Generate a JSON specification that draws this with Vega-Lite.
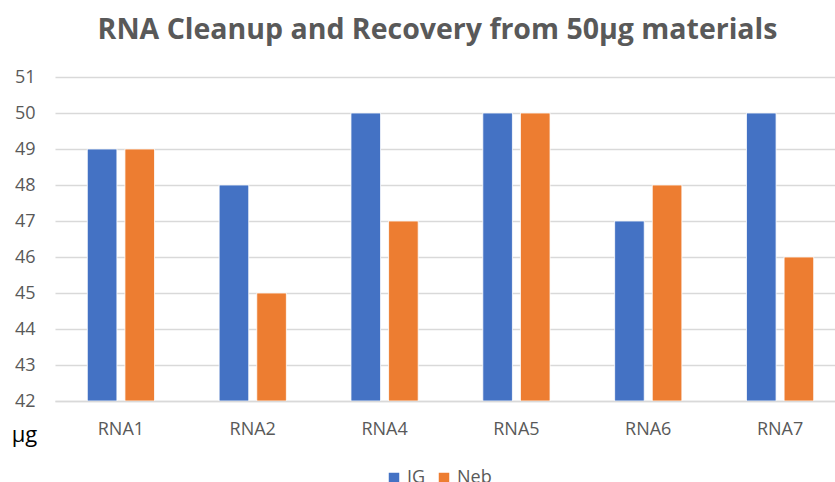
{
  "$schema": "https://vega.github.io/schema/vega-lite/v6.json",
  "width": 791,
  "height": 324,
  "autosize": {"type": "none"},
  "padding": {"left": 55, "top": 77, "right": 0, "bottom": 81},
  "background": "white",
  "title": {
    "text": "RNA Cleanup and Recovery from 50µg materials",
    "font": "Open Sans",
    "fontSize": 28.5,
    "fontWeight": "bold",
    "color": "#595959",
    "anchor": "middle",
    "dx": -13,
    "offset": 24
  },
  "data": {
    "values": [
      {"sample": "RNA1", "method": "IG", "value": 49},
      {"sample": "RNA1", "method": "Neb", "value": 49},
      {"sample": "RNA2", "method": "IG", "value": 48},
      {"sample": "RNA2", "method": "Neb", "value": 45},
      {"sample": "RNA4", "method": "IG", "value": 50},
      {"sample": "RNA4", "method": "Neb", "value": 47},
      {"sample": "RNA5", "method": "IG", "value": 50},
      {"sample": "RNA5", "method": "Neb", "value": 50},
      {"sample": "RNA6", "method": "IG", "value": 47},
      {"sample": "RNA6", "method": "Neb", "value": 48},
      {"sample": "RNA7", "method": "IG", "value": 50},
      {"sample": "RNA7", "method": "Neb", "value": 46}
    ]
  },
  "mark": {"type": "bar", "stroke": "white", "strokeWidth": 0.8, "clip": true},
  "encoding": {
    "x": {
      "field": "sample",
      "type": "nominal",
      "sort": null,
      "scale": {"paddingInner": 0.49, "paddingOuter": 0.245},
      "axis": {
        "title": null,
        "labelAngle": 0,
        "labelFont": "Open Sans",
        "labelFontSize": 18,
        "labelColor": "#595959",
        "labelPadding": 19,
        "ticks": false,
        "domain": true,
        "domainColor": "#D9D9D9",
        "domainWidth": 1.5
      }
    },
    "xOffset": {
      "field": "method",
      "type": "nominal",
      "scale": {"paddingInner": 0.213, "paddingOuter": 0}
    },
    "y": {
      "field": "value",
      "type": "quantitative",
      "scale": {"domain": [42, 51], "zero": false, "nice": false},
      "axis": {
        "values": [42, 43, 44, 45, 46, 47, 48, 49, 50, 51],
        "title": "µg",
        "titleAngle": 0,
        "titleFont": "Open Sans",
        "titleFontSize": 22,
        "titleFontWeight": "normal",
        "titleColor": "#000000",
        "titleX": -31,
        "titleY": 357,
        "titleAlign": "center",
        "titleBaseline": "middle",
        "labelFont": "Open Sans",
        "labelFontSize": 18,
        "labelColor": "#595959",
        "labelPadding": 20,
        "ticks": false,
        "domain": false,
        "grid": true,
        "gridColor": "#D9D9D9",
        "gridWidth": 1.5
      }
    },
    "y2": {"datum": 42},
    "color": {
      "field": "method",
      "type": "nominal",
      "scale": {"domain": ["IG", "Neb"], "range": ["#4472C4", "#ED7D31"]},
      "legend": {
        "title": null,
        "orient": "none",
        "legendX": 330,
        "legendY": 392,
        "direction": "horizontal",
        "symbolType": "square",
        "symbolSize": 110,
        "symbolStrokeWidth": 0,
        "labelFont": "Open Sans",
        "labelFontSize": 18,
        "labelColor": "#595959",
        "columnPadding": 9
      }
    }
  },
  "config": {"view": {"stroke": null}}
}
